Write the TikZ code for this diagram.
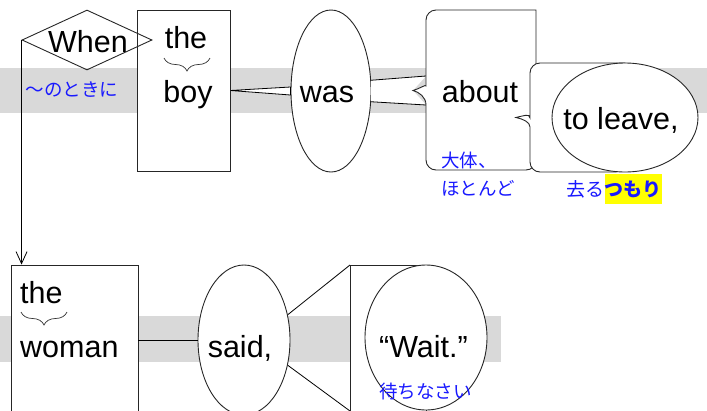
\documentclass[tikz,border=0pt]{standalone}
\usepackage{fontspec}
\setmainfont{Liberation Sans}
\newfontfamily\jp{Noto Sans CJK JP}
\usetikzlibrary{shapes.geometric,decorations.pathreplacing,arrows.meta}
\definecolor{bandgray}{RGB}{217,217,217}
\definecolor{jpblue}{RGB}{25,25,255}
\definecolor{hl}{RGB}{255,255,0}
\begin{document}
\begin{tikzpicture}[x=1pt,y=-1pt,
  en/.style={font=\fontsize{30.5}{36}\selectfont, inner sep=0pt},
  ja/.style={font=\jp\fontsize{18.5}{22}\selectfont, text=jpblue, inner sep=0pt},
  shapeline/.style={draw=black!85, line width=0.9pt},
  conn/.style={draw=black, line width=0.8pt},
  bracel/.style={draw=black!80, line width=0.7pt, decorate, decoration={brace, mirror, amplitude=13pt}}]
\useasboundingbox (0,0) rectangle (707,410);
\clip (0,0) rectangle (707,410);
% bands
\fill[bandgray] (0,68) rectangle (707,113);
\fill[bandgray] (0,316) rectangle (501,362);
% row 1
\node[rectangle, shapeline, fill=white, minimum width=93pt, minimum height=161pt, inner sep=0pt] (boybox) at (183.5,90.5) {};
\node[diamond, aspect=2.1667, shapeline, minimum width=130pt, minimum height=60pt, inner sep=0pt] (whend) at (87,40) {};
\node[ellipse, shapeline, fill=white, minimum width=80pt, minimum height=162pt, inner sep=0pt] (was) at (331,91) {};
\filldraw[conn, fill=white] (boybox.east) -- ([yshift=4pt]was.west) -- ([yshift=-4pt]was.west) -- cycle;
\coordinate (aU) at (426,76);
\coordinate (aTip) at (413,90.5);
\coordinate (aL) at (426,105);
\fill[white] (was.15) -- (aU) -- (aTip) -- (aL) -- (was.-15) -- cycle;
\draw[conn] (was.15) -- (aU);
\draw[conn] (was.-15) -- (aL);
\filldraw[shapeline, fill=white] (536,63) -- (536,10) [rounded corners=10pt] -- (426,10) -- (aU) [sharp corners] .. controls (426,84) and (419,89) .. (aTip) .. controls (419,92) and (426,97) .. (aL) [rounded corners=10pt] -- (426,170) -- (536,170) [sharp corners] -- cycle;
\coordinate (lvN) at (625,63);
\coordinate (lvS) at (625,172);
\filldraw[shapeline, fill=white] (lvN) [rounded corners=10pt] -- (530,63) -- (530,108) [sharp corners] .. controls (530,113) and (523,116) .. (516,117.5) .. controls (523,119) and (530,122) .. (530,127) [rounded corners=10pt] -- (530,172) -- (lvS) [sharp corners] -- cycle;
\node[ellipse, shapeline, fill=white, minimum width=146pt, minimum height=109pt, inner sep=0pt] (leave) at (625,117.5) {};
% row 2
\node[rectangle, shapeline, fill=white, minimum width=127pt, minimum height=170pt, inner sep=0pt] (woman) at (74.5,350) {};
\node[ellipse, shapeline, fill=white, minimum width=92pt, minimum height=150pt, inner sep=0pt] (said) at (244,340) {};
\draw[conn] (woman.east |- said.west) -- (said.west);
\coordinate (wTL) at (350,265);
\coordinate (wBL) at (350,425);
\coordinate (wN) at (426,265);
\coordinate (wB) at (350,411);
\filldraw[shapeline, fill=white] (wN) -- (wTL) -- (wBL) -- (426,425) -- cycle;
\node[ellipse, shapeline, fill=white, minimum width=122pt, minimum height=145pt, inner sep=0pt] (wait) at (426,337.5) {};
\draw[conn] (said.30) -- (wTL);
\draw[conn] (said.-30) -- (wB);
% arrow
\draw[conn, -{Straight Barb[length=12pt,width=11pt]}] (whend.west) -- (whend.west |- woman.north);
% braces
\draw[bracel] (164,58) -- (210,58);
\draw[bracel] (21,312) -- (67,312);
% texts
\node[en, anchor=base] (tWhen) at (88,52) {When};
\node[en, anchor=base] (tthe1) at (186,48) {the};
\node[en, anchor=base] (tboy) at (188,102) {boy};
\node[ja] (jWhen) at (72,90) {〜のときに};
\node[en, anchor=base] (twas) at (327,102) {was};
\node[en, anchor=base] (tabout) at (480,102) {about};
\node[en, anchor=base] (tleave) at (621,129) {to leave,};
\node[ja, anchor=west] (jabout1) at (441,160) {大体、};
\node[ja, anchor=west] (jabout2) at (441,188) {ほとんど};
\node[ja, anchor=west, font=\jp\fontsize{19}{22}\selectfont] (jsaru) at (566,189) {去る};
\node[ja, anchor=west, fill=hl, minimum height=30pt, font=\jp\bfseries\fontsize{19}{22}\selectfont] (jtsumori) at (jsaru.east) {つもり};
\node[en, anchor=base west] (tthe2) at (20,303) {the};
\node[en, anchor=base west] (twoman) at (20,357) {woman};
\node[en, anchor=base] (tsaid) at (240,357) {said,};
\node[en, anchor=base] (twait) at (423.5,357) {“Wait.”};
\node[ja] (jwait) at (425.5,391) {待ちなさい};
\end{tikzpicture}
\end{document}
